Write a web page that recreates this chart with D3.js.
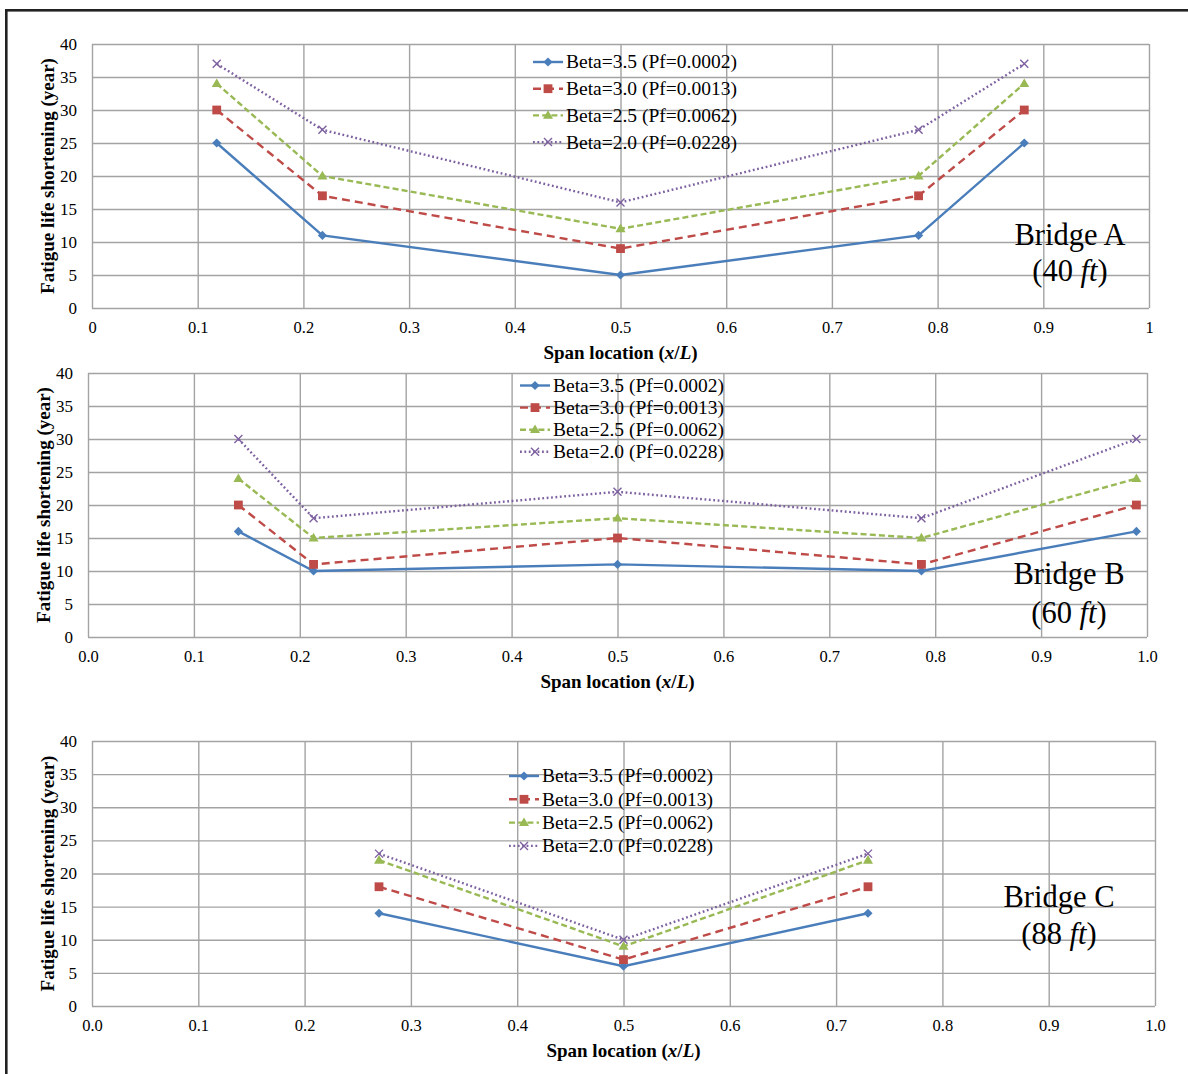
<!DOCTYPE html>
<html>
<head>
<meta charset="utf-8">
<script src="https://cdn.jsdelivr.net/npm/d3@7"></script>
<style>
  body { margin: 0; background: #fff; }
  svg { display: block; }
  text { font-family: "Liberation Serif", "Times New Roman", serif; fill: #000; }
</style>
</head>
<body>
<svg id="chart" width="1188" height="1074"></svg>
<script>
// ---- data ----
const seriesNames = [
  "Beta=3.5 (Pf=0.0002)",
  "Beta=3.0 (Pf=0.0013)",
  "Beta=2.5 (Pf=0.0062)",
  "Beta=2.0 (Pf=0.0228)"
];
const yTicks = [0, 5, 10, 15, 20, 25, 30, 35, 40];
const xTicks = [0, 0.1, 0.2, 0.3, 0.4, 0.5, 0.6, 0.7, 0.8, 0.9, 1.0];

// Bridge A (40 ft)
const spanA = [0.118, 0.218, 0.5, 0.782, 0.882];
const bridgeA_beta35 = [25, 11, 5, 11, 25];
const bridgeA_beta30 = [30, 17, 9, 17, 30];
const bridgeA_beta25 = [34, 20, 12, 20, 34];
const bridgeA_beta20 = [37, 27, 16, 27, 37];

// Bridge B (60 ft)
const spanB = [0.142, 0.213, 0.5, 0.787, 0.99];
const bridgeB_beta35 = [16, 10, 11, 10, 16];
const bridgeB_beta30 = [20, 11, 15, 11, 20];
const bridgeB_beta25 = [24, 15, 18, 15, 24];
const bridgeB_beta20 = [30, 18, 22, 18, 30];

// Bridge C (88 ft)
const spanC = [0.27, 0.5, 0.73];
const bridgeC_beta35 = [14, 6, 14];
const bridgeC_beta30 = [18, 7, 18];
const bridgeC_beta25 = [22, 9, 22];
const bridgeC_beta20 = [23, 10, 23];

// ---- styling ----
const seriesStyle = [
  { color: "#4a7ebb", dash: null,  marker: "diamond" },
  { color: "#be4b48", dash: "8,5", marker: "square" },
  { color: "#98b954", dash: "6,3.2", marker: "triangle" },
  { color: "#7d60a0", dash: "1.8,2.6", marker: "cross" }
];
const gridColor = "#a3a3a3";
const lineWidth = 2.4;

const panels = [
  { name: "Bridge A", len: "40", span: spanA,
    values: [bridgeA_beta35, bridgeA_beta30, bridgeA_beta25, bridgeA_beta20],
    box: { left: 92, right: 1149, top: 44, bottom: 308 },
    fmt: d => d === 0 ? "0" : d === 1 ? "1" : d3.format(".1f")(d),
    legend: { x: 533, y: 62, dy: 26.7 },
    label: { x: 1070, y1: 245, y2: 281 } },
  { name: "Bridge B", len: "60", span: spanB,
    values: [bridgeB_beta35, bridgeB_beta30, bridgeB_beta25, bridgeB_beta20],
    box: { left: 88, right: 1147, top: 373, bottom: 637 },
    fmt: d3.format(".1f"),
    legend: { x: 520, y: 385.5, dy: 22.1 },
    label: { x: 1069, y1: 584, y2: 623 } },
  { name: "Bridge C", len: "88", span: spanC,
    values: [bridgeC_beta35, bridgeC_beta30, bridgeC_beta25, bridgeC_beta20],
    box: { left: 92, right: 1155, top: 741, bottom: 1006 },
    fmt: d3.format(".1f"),
    legend: { x: 509, y: 776, dy: 23.3 },
    label: { x: 1059, y1: 907, y2: 944 } }
];

const svg = d3.select("#chart");

// outer frame
svg.append("rect")
  .attr("x", 6.3).attr("y", 10.3)
  .attr("width", 1200).attr("height", 1100)
  .attr("fill", "none").attr("stroke", "#222").attr("stroke-width", 2.6);

function drawMarker(g, type, color) {
  if (type === "diamond") {
    g.append("path").attr("d", "M0,-4.6L4.6,0L0,4.6L-4.6,0Z").attr("fill", color);
  } else if (type === "square") {
    g.append("rect").attr("x", -4.4).attr("y", -4.4).attr("width", 8.8).attr("height", 8.8).attr("fill", color);
  } else if (type === "triangle") {
    g.append("path").attr("d", "M0,-5.2L5,3.4L-5,3.4Z").attr("fill", color);
  } else {
    g.append("path").attr("d", "M-4,-4L4,4M-4,4L4,-4")
      .attr("stroke", color).attr("stroke-width", 1.4).attr("fill", "none");
  }
}

panels.forEach(p => {
  const b = p.box;
  const x = d3.scaleLinear().domain([0, 1]).range([b.left, b.right]);
  const y = d3.scaleLinear().domain([0, 40]).range([b.bottom, b.top]);
  const g = svg.append("g");

  // gridlines (also form the plot border)
  g.append("g")
    .attr("transform", `translate(0,${b.bottom})`)
    .call(d3.axisBottom(x).tickValues(xTicks).tickSize(-(b.bottom - b.top)).tickFormat(""))
    .call(a => a.select(".domain").remove())
    .call(a => a.selectAll("line").attr("stroke", gridColor).attr("stroke-width", 1.4));
  g.append("g")
    .attr("transform", `translate(${b.left},0)`)
    .call(d3.axisLeft(y).tickValues(yTicks).tickSize(-(b.right - b.left)).tickFormat(""))
    .call(a => a.select(".domain").remove())
    .call(a => a.selectAll("line").attr("stroke", gridColor).attr("stroke-width", 1.4));

  // tick labels
  g.append("g")
    .attr("transform", `translate(0,${b.bottom})`)
    .call(d3.axisBottom(x).tickValues(xTicks).tickSize(0).tickPadding(13).tickFormat(p.fmt))
    .call(a => a.select(".domain").remove())
    .call(a => a.selectAll("text").attr("font-size", 16.5)
      .style("font-family", "'Liberation Serif','Times New Roman',serif").attr("fill", "#000"));
  g.append("g")
    .attr("transform", `translate(${b.left},0)`)
    .call(d3.axisLeft(y).tickValues(yTicks).tickSize(0).tickPadding(15))
    .call(a => a.select(".domain").remove())
    .call(a => a.selectAll("text").attr("font-size", 17)
      .style("font-family", "'Liberation Serif','Times New Roman',serif").attr("fill", "#000"));

  // axis titles
  g.append("text")
    .attr("transform", `translate(${b.left - 45},${(b.top + b.bottom) / 2}) rotate(-90)`)
    .attr("text-anchor", "middle").attr("dy", "0.35em")
    .attr("font-size", 19).attr("font-weight", "bold")
    .text("Fatigue life shortening (year)");
  const xt = g.append("text")
    .attr("x", (b.left + b.right) / 2).attr("y", b.bottom + 44)
    .attr("text-anchor", "middle").attr("dy", "0.35em")
    .attr("font-size", 19).attr("font-weight", "bold");
  xt.append("tspan").text("Span location (");
  xt.append("tspan").attr("font-style", "italic").text("x");
  xt.append("tspan").text("/");
  xt.append("tspan").attr("font-style", "italic").text("L");
  xt.append("tspan").text(")");

  // bridge label
  g.append("text").attr("x", p.label.x).attr("y", p.label.y1)
    .attr("text-anchor", "middle").attr("font-size", 30.5).text(p.name);
  const lt = g.append("text").attr("x", p.label.x).attr("y", p.label.y2)
    .attr("text-anchor", "middle").attr("font-size", 30.5);
  lt.append("tspan").text(`(${p.len} `);
  lt.append("tspan").attr("font-style", "italic").text("ft");
  lt.append("tspan").text(")");

  // series
  const line = d3.line().x(d => x(d[0])).y(d => y(d[1]));
  p.values.forEach((vals, i) => {
    const st = seriesStyle[i];
    const pts = p.span.map((s, k) => [s, vals[k]]);
    g.append("path").datum(pts)
      .attr("d", line).attr("fill", "none")
      .attr("stroke", st.color).attr("stroke-width", lineWidth)
      .attr("stroke-dasharray", st.dash);
    pts.forEach(pt => {
      const m = g.append("g").attr("transform", `translate(${x(pt[0])},${y(pt[1])})`);
      drawMarker(m, st.marker, st.color);
    });
  });

  // legend
  const lg = g.append("g");
  seriesNames.forEach((name, i) => {
    const st = seriesStyle[i];
    const yy = p.legend.y + i * p.legend.dy;
    lg.append("line")
      .attr("x1", p.legend.x).attr("x2", p.legend.x + 30)
      .attr("y1", yy).attr("y2", yy)
      .attr("stroke", st.color).attr("stroke-width", lineWidth)
      .attr("stroke-dasharray", st.dash);
    const m = lg.append("g").attr("transform", `translate(${p.legend.x + 15},${yy})`);
    drawMarker(m, st.marker, st.color);
    lg.append("text")
      .attr("x", p.legend.x + 33).attr("y", yy).attr("dy", "0.33em")
      .attr("font-size", 19.5).text(name);
  });
});
</script>
</body>
</html>
